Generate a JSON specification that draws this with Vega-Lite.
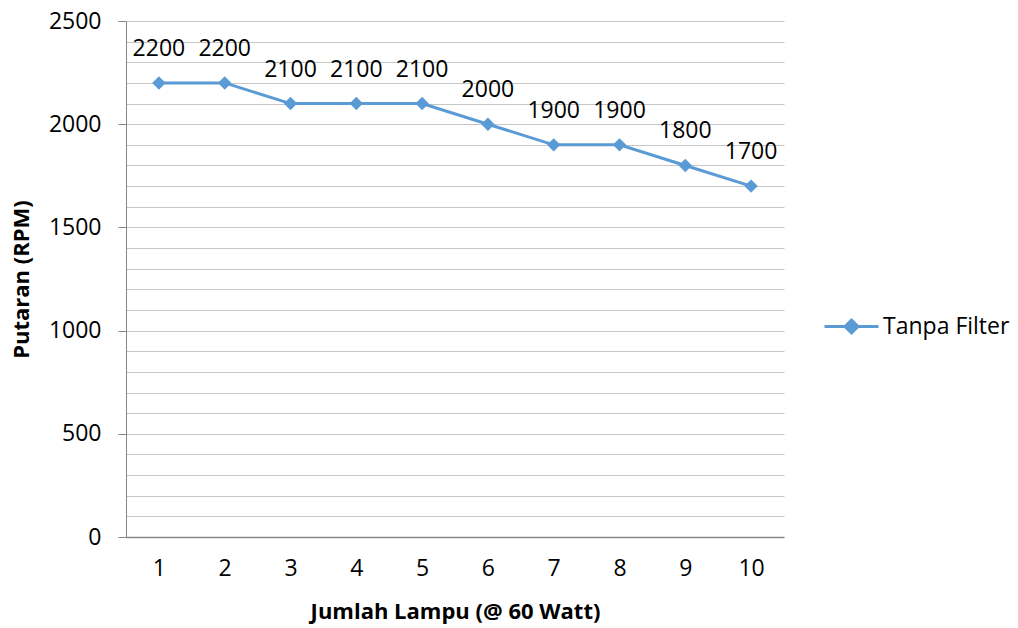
{
  "$schema": "https://vega.github.io/schema/vega-lite/v6.json",
  "width": 658,
  "height": 516,
  "autosize": {"type": "none"},
  "padding": {"left": 126, "top": 21, "right": 234, "bottom": 91},
  "background": "white",
  "config": {
    "view": {"stroke": null},
    "font": "Open Sans",
    "text": {"font": "Open Sans"}
  },
  "data": {
    "values": [
      {"lampu": "1", "rpm": 2200, "seri": "Tanpa Filter"},
      {"lampu": "2", "rpm": 2200, "seri": "Tanpa Filter"},
      {"lampu": "3", "rpm": 2100, "seri": "Tanpa Filter"},
      {"lampu": "4", "rpm": 2100, "seri": "Tanpa Filter"},
      {"lampu": "5", "rpm": 2100, "seri": "Tanpa Filter"},
      {"lampu": "6", "rpm": 2000, "seri": "Tanpa Filter"},
      {"lampu": "7", "rpm": 1900, "seri": "Tanpa Filter"},
      {"lampu": "8", "rpm": 1900, "seri": "Tanpa Filter"},
      {"lampu": "9", "rpm": 1800, "seri": "Tanpa Filter"},
      {"lampu": "10", "rpm": 1700, "seri": "Tanpa Filter"}
    ]
  },
  "encoding": {
    "x": {
      "field": "lampu",
      "type": "ordinal",
      "sort": null,
      "scale": {"type": "point", "padding": 0.5},
      "axis": {
        "title": "Jumlah Lampu (@ 60 Watt)",
        "titleFont": "Open Sans",
        "titleFontSize": 22,
        "titleFontWeight": "bold",
        "titleColor": "#000000",
        "titlePadding": 21,
        "labelAngle": 0,
        "labelFont": "Open Sans",
        "labelFontSize": 23,
        "labelColor": "#000000",
        "labelPadding": 20,
        "ticks": false,
        "domainColor": "#868686",
        "domainWidth": 1.5,
        "grid": false
      }
    },
    "y": {
      "field": "rpm",
      "type": "quantitative",
      "scale": {"domain": [0, 2500], "nice": false},
      "axis": {
        "title": "Putaran (RPM)",
        "titleFont": "Open Sans",
        "titleFontSize": 22,
        "titleFontWeight": "bold",
        "titleColor": "#000000",
        "titlePadding": 15,
        "values": [0, 100, 200, 300, 400, 500, 600, 700, 800, 900, 1000, 1100, 1200, 1300, 1400, 1500, 1600, 1700, 1800, 1900, 2000, 2100, 2200, 2300, 2400, 2500],
        "labelExpr": "datum.value % 500 === 0 ? datum.label : ''",
        "format": "d",
        "labelFont": "Open Sans",
        "labelFontSize": 23,
        "labelColor": "#000000",
        "labelPadding": 17,
        "tickSize": 8,
        "tickColor": "#868686",
        "tickOpacity": {"expr": "datum.value % 500 === 0 ? 1 : 0"},
        "domainColor": "#868686",
        "grid": true,
        "gridColor": "#c6c6c6",
        "gridWidth": 1.2
      }
    }
  },
  "layer": [
    {
      "mark": {
        "type": "line",
        "strokeWidth": 3,
        "point": {"shape": "diamond", "size": 180, "filled": true, "opacity": 1}
      },
      "encoding": {
        "color": {
          "field": "seri",
          "type": "nominal",
          "scale": {"range": ["#5B9BD5"]},
          "legend": {
            "title": null,
            "orient": "none",
            "legendX": 697,
            "legendY": 277,
            "symbolType": "M-1,0H1M-0.24,0L0,-0.24L0.24,0L0,0.24Z",
            "symbolSize": 2916,
            "symbolStrokeWidth": 3,
            "symbolFillColor": "#5B9BD5",
            "symbolStrokeColor": "#5B9BD5",
            "labelFont": "Open Sans",
            "labelFontSize": 23,
            "labelColor": "#000000",
            "labelOffset": 3
          }
        }
      }
    },
    {
      "mark": {
        "type": "text",
        "fontSize": 23,
        "color": "#000000",
        "baseline": "alphabetic",
        "dy": -27
      },
      "encoding": {
        "text": {"field": "rpm", "type": "quantitative", "format": "d"}
      }
    }
  ]
}
